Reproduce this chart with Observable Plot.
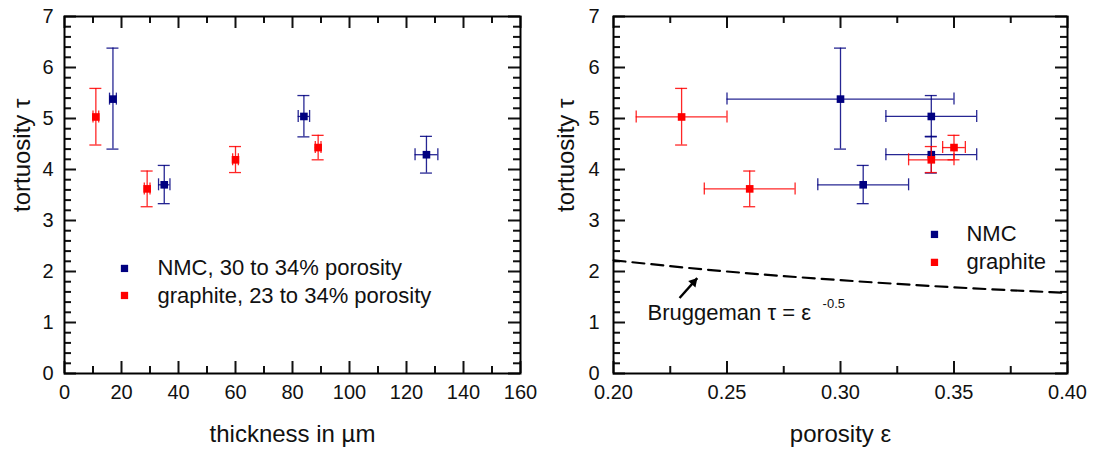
<!DOCTYPE html>
<html><head><meta charset="utf-8">
<script src="https://cdn.jsdelivr.net/npm/d3@7"></script>
<script src="https://cdn.jsdelivr.net/npm/@observablehq/plot@0.6"></script>
<style>
body{margin:0;background:#fff;}
#wrap{position:relative;width:1096px;height:457px;display:flex;}
#wrap svg{display:block;}
</style></head><body><div id="wrap"></div>
<script>
// ---- data ----
const seriesNames = ["NMC", "graphite"];
const seriesColors = ["#000080", "#ff0000"];

const nmcThickness = [17, 35, 84, 127];
const nmcThicknessErr = [1.2, 2, 2, 4];
const nmcPorosity = [0.30, 0.31, 0.34, 0.34];
const nmcPorosityErr = [0.05, 0.02, 0.02, 0.02];
const nmcTau = [5.38, 3.70, 5.04, 4.29];
const nmcTauLow = [4.40, 3.33, 4.64, 3.93];
const nmcTauHigh = [6.38, 4.08, 5.45, 4.65];

const grThickness = [11, 29, 60, 89];
const grThicknessErr = [1, 1, 1, 1];
const grPorosity = [0.23, 0.26, 0.34, 0.35];
const grPorosityErr = [0.02, 0.02, 0.01, 0.005];
const grTau = [5.03, 3.62, 4.19, 4.43];
const grTauLow = [4.48, 3.27, 3.94, 4.19];
const grTauHigh = [5.59, 3.97, 4.45, 4.67];

const brugPorosity = [0.20, 0.25, 0.30, 0.35, 0.40];
const brugTau = [2.22, 2.00, 1.83, 1.69, 1.58];
const arrowFrom = [0.2291, 1.48];
const arrowTo = [0.2369, 1.87];

const thicknessTicks = [0, 20, 40, 60, 80, 100, 120, 140, 160];
const porosityTicks = [0.20, 0.25, 0.30, 0.35, 0.40];
const porosityTickLabels = ["0.20", "0.25", "0.30", "0.35", "0.40"];
const tauTicks = [0, 1, 2, 3, 4, 5, 6, 7];

const leftLegend = ["NMC, 30 to 34% porosity", "graphite, 23 to 34% porosity"];
const rightLegend = ["NMC", "graphite"];

// ---- build tables ----
function rows(th, thErr, por, porErr, tau, lo, hi) {
  return th.map((t, i) => ({thickness: t, thErr: thErr[i], porosity: por[i], porErr: porErr[i], tau: tau[i], lo: lo[i], hi: hi[i]}));
}
const series = [
  {name: seriesNames[0], color: seriesColors[0], data: rows(nmcThickness, nmcThicknessErr, nmcPorosity, nmcPorosityErr, nmcTau, nmcTauLow, nmcTauHigh)},
  {name: seriesNames[1], color: seriesColors[1], data: rows(grThickness, grThicknessErr, grPorosity, grPorosityErr, grTau, grTauLow, grTauHigh)}
];
const brug = brugPorosity.map((p, i) => ({porosity: p, tau: brugTau[i]}));

const minorsBetween = (ticks, n) => {
  const out = [];
  for (let i = 0; i < ticks.length - 1; i++) {
    const step = (ticks[i + 1] - ticks[i]) / n;
    for (let k = 1; k < n; k++) out.push(ticks[i] + k * step);
  }
  return out;
};

const W = 548, H = 457, MT = 16, MB = 84;
const FH = H - MT - MB;
const FONT = "'Liberation Sans', Arial, sans-serif";

function panel(o) {
  const FW = W - o.ml - o.mr;
  const xMinor = minorsBetween(o.majors, 2);
  const yMinor = minorsBetween(tauTicks, 5);
  const marks = [];
  // ticks (inward, all four sides)
  marks.push(Plot.tickX(o.majors, {x: d => d, insetTop: FH - 12, strokeWidth: 2}));
  marks.push(Plot.tickX(o.majors, {x: d => d, insetBottom: FH - 12, strokeWidth: 2}));
  marks.push(Plot.tickX(xMinor, {x: d => d, insetTop: FH - 7, strokeWidth: 2}));
  marks.push(Plot.tickX(xMinor, {x: d => d, insetBottom: FH - 7, strokeWidth: 2}));
  marks.push(Plot.tickY(tauTicks, {y: d => d, insetRight: FW - 12, strokeWidth: 2}));
  marks.push(Plot.tickY(tauTicks, {y: d => d, insetLeft: FW - 12, strokeWidth: 2}));
  marks.push(Plot.tickY(yMinor, {y: d => d, insetRight: FW - 7, strokeWidth: 2}));
  marks.push(Plot.tickY(yMinor, {y: d => d, insetLeft: FW - 7, strokeWidth: 2}));
  marks.push(Plot.axisX({ticks: o.majors, tickSize: 0, tickPadding: 11, tickFormat: o.fmt, fontSize: 20, label: null}));
  marks.push(Plot.axisY({ticks: tauTicks, tickSize: 0, tickPadding: o.yPad, tickFormat: d => String(d), fontSize: 20, label: null}));
  if (o.extras) marks.push(...o.extras);
  // data
  for (const s of series) {
    const xk = o.xKey, ek = o.errKey;
    const st = {stroke: s.color, strokeWidth: 1.3, strokeOpacity: 0.85};
    marks.push(Plot.ruleX(s.data, {x: xk, y1: "lo", y2: "hi", ...st}));
    marks.push(Plot.ruleY(s.data, {y: "hi", x1: xk, x2: xk, insetLeft: -6, insetRight: -6, ...st}));
    marks.push(Plot.ruleY(s.data, {y: "lo", x1: xk, x2: xk, insetLeft: -6, insetRight: -6, ...st}));
    marks.push(Plot.ruleY(s.data, {y: "tau", x1: d => d[xk] - d[ek], x2: d => d[xk] + d[ek], ...st}));
    marks.push(Plot.ruleX(s.data, {x: d => d[xk] - d[ek], y1: "tau", y2: "tau", insetTop: -6, insetBottom: -6, ...st}));
    marks.push(Plot.ruleX(s.data, {x: d => d[xk] + d[ek], y1: "tau", y2: "tau", insetTop: -6, insetBottom: -6, ...st}));
    marks.push(Plot.dot(s.data, {x: xk, y: "tau", symbol: "square", r: 4.3, fill: s.color}));
  }
  // legend
  o.legend.forEach((label, i) => {
    marks.push(Plot.dot([0], {x: () => o.legX, y: () => o.legY[i], symbol: "square", r: 4.1, fill: series[i].color}));
    marks.push(Plot.text([label], {x: () => o.legTX, y: () => o.legY[i], text: d => d, textAnchor: "start", fontSize: 22, fill: "#111"}));
  });
  // titles
  marks.push(Plot.text([o.xTitle], {frameAnchor: "bottom", dy: 68, fontSize: 24, fill: "#111"}));
  marks.push(Plot.text(["tortuosity τ"], {frameAnchor: "left", rotate: -90, dx: o.yTitleDx, dy: 17, fontSize: 24, fill: "#111"}));
  marks.push(Plot.frame({stroke: "black", strokeWidth: 2}));
  return Plot.plot({
    width: W, height: H,
    marginLeft: o.ml, marginRight: o.mr, marginTop: MT, marginBottom: MB,
    x: {domain: o.domain, label: null},
    y: {domain: [0, 7], label: null},
    style: {fontFamily: FONT, fontSize: "20px", color: "#111", background: "white", overflow: "visible"},
    marks
  });
}

const left = panel({
  xKey: "thickness", errKey: "thErr", domain: [0, 160], majors: thicknessTicks,
  fmt: d => String(d), ml: 64, mr: 28, yPad: 11, yTitleDx: -42,
  xTitle: "thickness in µm",
  legend: leftLegend, legX: 21.05, legTX: 32.6, legY: [2.06, 1.53]
});

const rightExtras = [
  Plot.line(brug, {x: "porosity", y: "tau", stroke: "black", strokeWidth: 2.2, strokeDasharray: "12,7", curve: "monotone-x"}),
  Plot.link([0], {x1: () => arrowFrom[0], y1: () => arrowFrom[1], x2: () => arrowTo[0], y2: () => arrowTo[1], stroke: "black", strokeWidth: 2.4}),
  Plot.dot([0], {x: () => arrowTo[0], y: () => arrowTo[1], dx: -3.6, dy: 4.1, symbol: "triangle", r: 3.6, rotate: 41.5, fill: "black"}),
  Plot.text(["Bruggeman τ = ε"], {x: () => 0.215, y: () => 1.18, text: d => d, textAnchor: "start", fontSize: 22, fill: "#111"}),
  Plot.text(["-0.5"], {x: () => 0.2921, y: () => 1.36, text: d => d, textAnchor: "start", fontSize: 13, fill: "#111"})
];

const right = panel({
  xKey: "porosity", errKey: "porErr", domain: [0.2, 0.4], majors: porosityTicks,
  fmt: (d, i) => porosityTickLabels[i], ml: 65, mr: 29, yPad: 14, yTitleDx: -47,
  xTitle: "porosity ε",
  legend: rightLegend, legX: 0.3414, legTX: 0.3555, legY: [2.727, 2.179],
  extras: rightExtras
});

document.getElementById("wrap").append(left, right);
</script>
</body></html>
